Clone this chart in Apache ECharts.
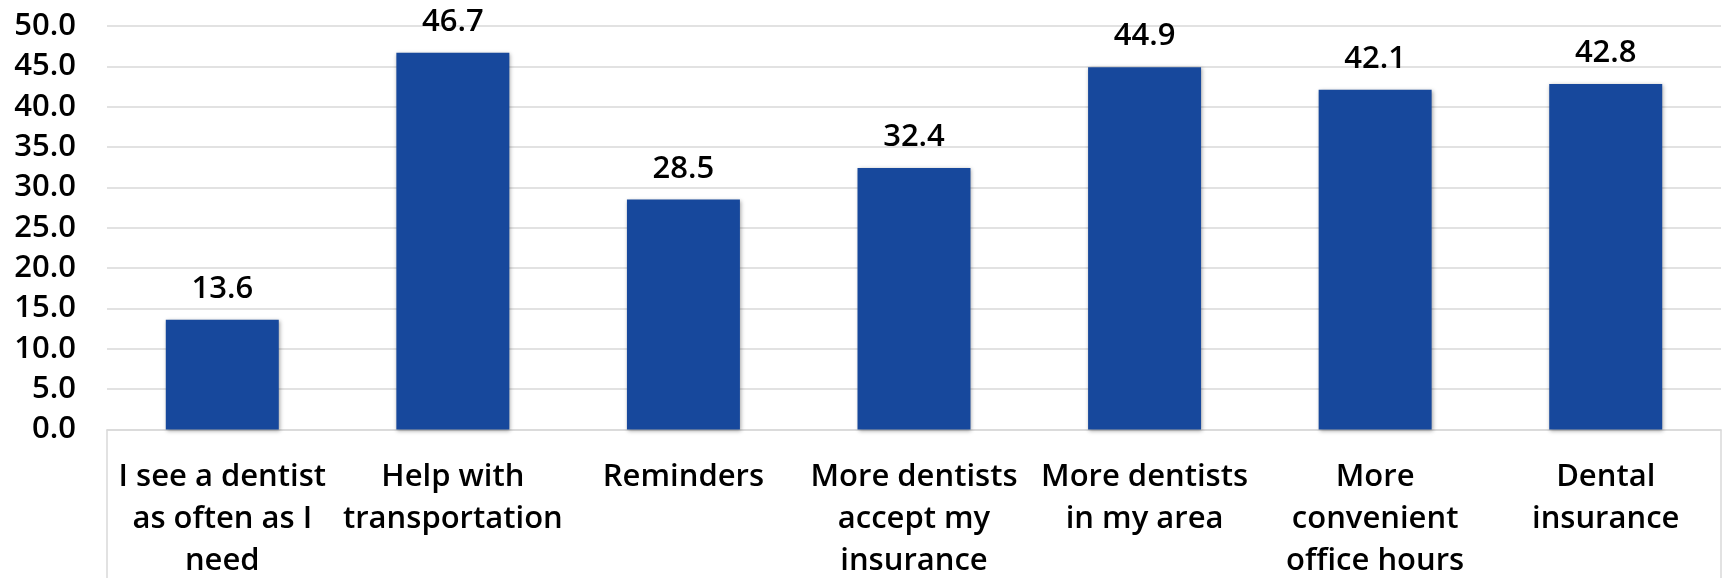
<!DOCTYPE html>
<html>
<head>
<meta charset="utf-8">
<script src="https://cdn.jsdelivr.net/npm/echarts@6/dist/echarts.min.js"></script>
<style>
html,body{margin:0;padding:0;background:#fff;}
#c{width:1723px;height:578px;}
</style>
</head>
<body>
<div id="c"></div>
<script>
const categories = [
  "I see a dentist\nas often as I\nneed",
  "Help with\ntransportation",
  "Reminders",
  "More dentists\naccept my\ninsurance",
  "More dentists\nin my area",
  "More\nconvenient\noffice hours",
  "Dental\ninsurance"
];
const values = [13.6, 46.7, 28.5, 32.4, 44.9, 42.1, 42.8];
const yMin = 0, yMax = 50, yStep = 5;

const FONT = '"Open Sans", "Noto Sans", sans-serif';
const chart = echarts.init(document.getElementById('c'), null, {renderer: 'canvas'});
const gridLeft = 107, gridRight = 2, gridTop = 26, gridBottom = 148.5;
chart.setOption({
  animation: false,
  backgroundColor: '#fff',
  grid: {left: gridLeft, right: gridRight, top: gridTop, bottom: gridBottom, containLabel: false, outerBoundsMode: 'none'},
  xAxis: {
    type: 'category',
    data: categories,
    axisLine: {show: true, lineStyle: {color: '#d9d9d9', width: 1.5}},
    axisTick: {show: false},
    axisLabel: {
      interval: 0, margin: 27, color: '#000', fontFamily: FONT, fontWeight: 600,
      fontSize: 31, lineHeight: 42, align: 'center'
    }
  },
  yAxis: {
    type: 'value', min: yMin, max: yMax, interval: yStep,
    axisLine: {show: false}, axisTick: {show: false},
    splitLine: {lineStyle: {color: '#d9d9d9', width: 1.5}},
    axisLabel: {
      margin: 31, color: '#000', fontFamily: FONT, fontWeight: 600, fontSize: 31,
      formatter: v => v.toFixed(1)
    }
  },
  series: [{
    type: 'bar',
    data: values,
    barWidth: '49%',
    itemStyle: {
      color: '#17489C',
      shadowColor: 'rgba(0,0,0,0.35)', shadowBlur: 4, shadowOffsetX: 1, shadowOffsetY: 1
    },
    label: {
      show: true, position: 'top', distance: 15, color: '#000',
      fontFamily: FONT, fontWeight: 600, fontSize: 31,
      formatter: p => p.value.toFixed(1)
    }
  }],
  graphic: [
    {type: 'line', shape: {x1: gridLeft, y1: 578 - gridBottom, x2: gridLeft, y2: 578}, style: {stroke: '#d9d9d9', lineWidth: 1.5}},
    {type: 'line', shape: {x1: 1723 - gridRight, y1: 578 - gridBottom, x2: 1723 - gridRight, y2: 578}, style: {stroke: '#d9d9d9', lineWidth: 1.5}}
  ]
});
</script>
</body>
</html>
